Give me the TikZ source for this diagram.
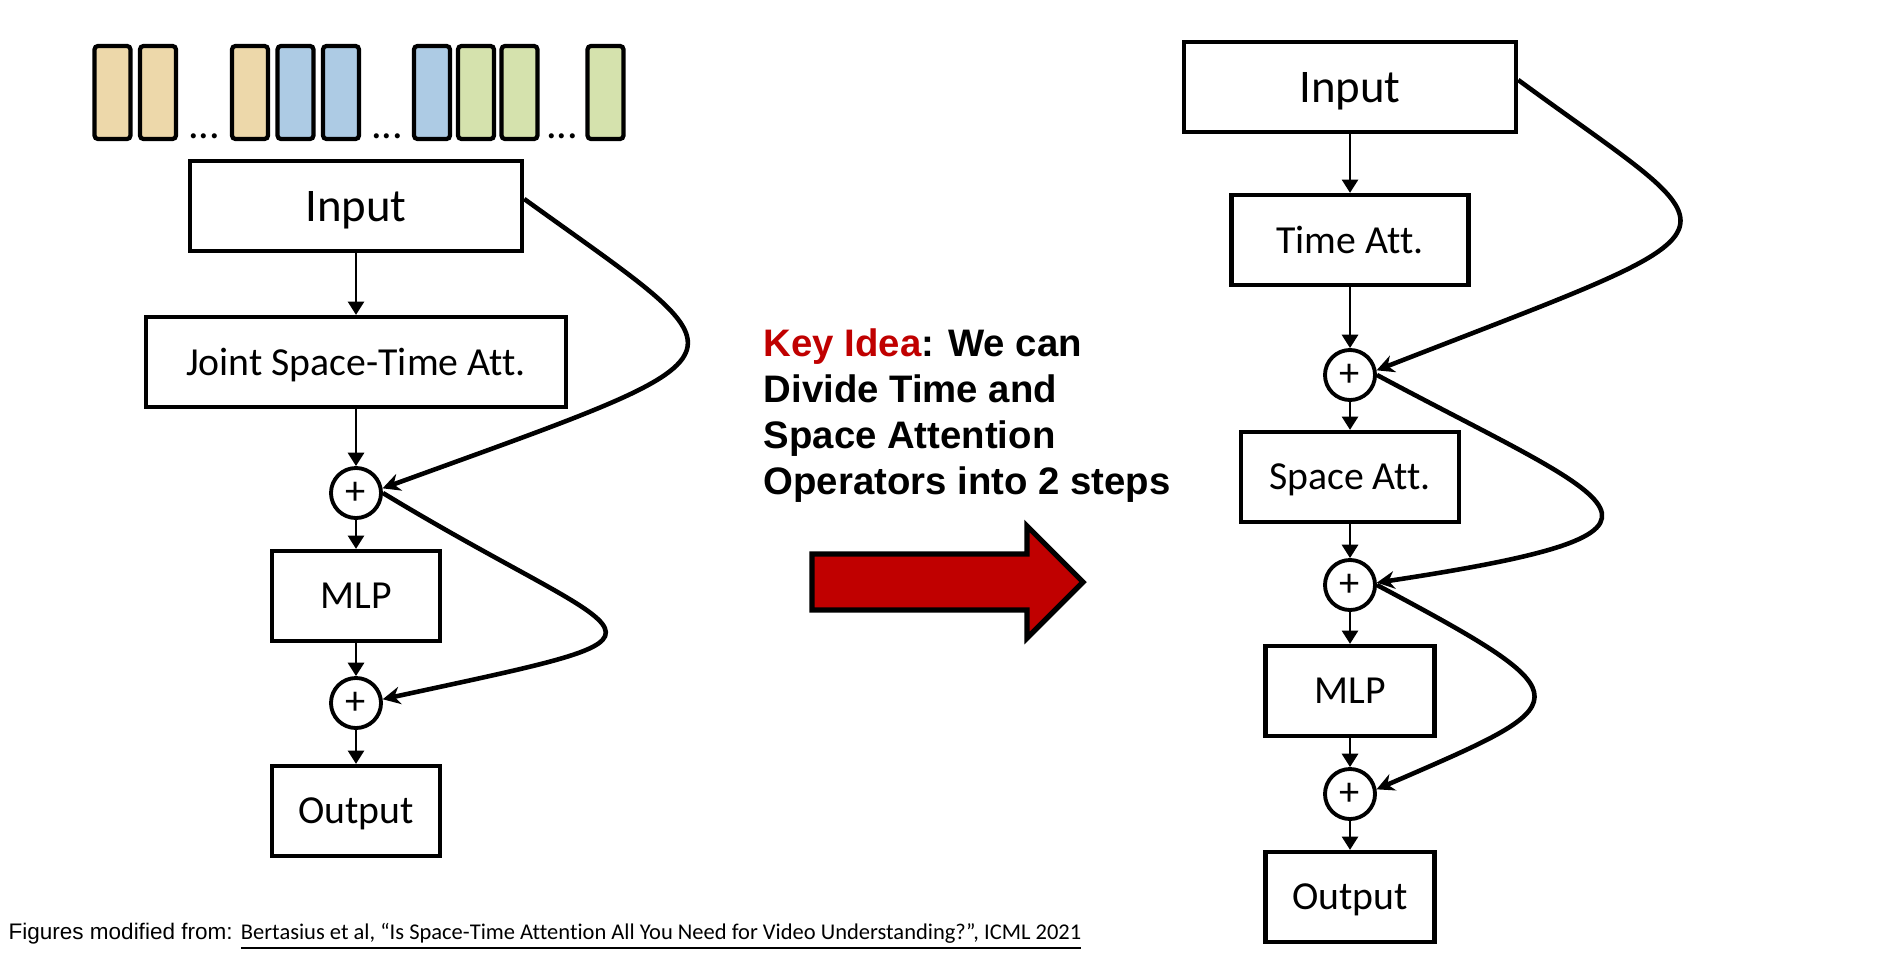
\documentclass[tikz,border=0pt]{standalone}
\usepackage{fontspec}
\setmainfont{Carlito}[Ligatures=NoCommon]
\newfontfamily\keyfont{Liberation Sans}
\usepackage{tikz}
\usetikzlibrary{arrows.meta, positioning, calc}
\definecolor{tokentan}{HTML}{EDD8AA}
\definecolor{tokenblue}{HTML}{ADCBE4}
\definecolor{tokengreen}{HTML}{D5E2AD}
\definecolor{ideared}{HTML}{C00000}

\begin{document}
\begin{tikzpicture}[
    x=0.01cm, y=-0.01cm,
    box/.style={rectangle, draw=black, line width=1.2pt, fill=white, inner sep=0pt, minimum height=0.9cm, text depth=0pt, font=\fontsize{11.3}{13}\selectfont},
    plus/.style={circle, draw=black, line width=1.1pt, fill=white, minimum size=0.5cm, inner sep=0pt, font=\fontsize{11.5}{11.5}\selectfont},
    token/.style={rectangle, draw=black, line width=1.2pt, rounded corners=1pt, minimum width=0.36cm, minimum height=0.93cm, inner sep=0pt},
    dots/.style={anchor=base, inner sep=0pt, font=\fontsize{12}{12}\selectfont},
    flow/.style={-{Triangle[length=3.8pt, width=4.6pt]}, line width=0.7pt},
    skip/.style={-{Stealth[length=5pt, width=5pt]}, line width=1.3pt}
]
\useasboundingbox (0,0) rectangle (1895,976);

% -- LEFT: JOINT SPACE-TIME ATTENTION --
\foreach \x/\c [count=\i] in {112.5/tokentan, 158/tokentan, 250/tokentan, 295.5/tokenblue, 341/tokenblue, 432/tokenblue, 476/tokengreen, 519.5/tokengreen, 605.5/tokengreen}
    \node[token, fill=\c] (tok\i) at (\x,92.5) {};
\node[dots] (gapA) at (204,139) {...};
\node[dots] (gapB) at (387,139) {...};
\node[dots] (gapC) at (562,139) {...};

\node[box, minimum width=3.32cm, font=\fontsize{13.3}{15}\selectfont] (inL) at (356,206) {Input};
\node[box, minimum width=4.19cm] (jointL) at (356,362) {Joint Space-Time Att.};
\node[plus] (addL1) at (356,493) {+};
\node[box, minimum width=1.68cm] (mlpL) at (356,596) {MLP};
\node[plus] (addL2) at (356,703) {+};
\node[box, minimum width=1.68cm] (outL) at (356,811) {Output};

\draw[flow] (inL) -- (jointL);
\draw[flow] (jointL) -- (addL1);
\draw[flow] (addL1) -- (mlpL);
\draw[flow] (mlpL) -- (addL2);
\draw[flow] (addL2) -- (outL);

\draw[skip] ([yshift=2pt]inL.east) .. controls (754,365) and (769,348) .. (addL1.10);
\draw[skip] (addL1.east) .. controls (642,650) and (712,628) .. (addL2.8);

% -- MIDDLE: KEY IDEA --
\node[anchor=north west, inner sep=0pt, align=left, font=\keyfont\bfseries\fontsize{10.9}{13.1}\selectfont] (idea) at (763,328)
    {\textcolor{ideared}{Key Idea}: We can\\Divide Time and\\Space Attention\\Operators into 2 steps};
\draw[line width=1.5pt, fill=ideared, miter limit=10] (812,554) -- (1027,554) -- (1027,526) -- (1083,582)
    -- (1027,638) -- (1027,610) -- (812,610) -- cycle;

% -- RIGHT: DIVIDED SPACE-TIME ATTENTION --
\node[box, minimum width=3.32cm, font=\fontsize{13.3}{15}\selectfont] (inR) at (1350,87) {Input};
\node[box, minimum width=2.37cm] (timeR) at (1350,240) {Time Att.};
\node[plus] (addR1) at (1350,375) {+};
\node[box, minimum width=2.18cm] (spaceR) at (1350,477) {Space Att.};
\node[plus] (addR2) at (1350,585) {+};
\node[box, minimum width=1.69cm] (mlpR) at (1350,691) {MLP};
\node[plus] (addR3) at (1350,794) {+};
\node[box, minimum width=1.69cm] (outR) at (1350,897) {Output};

\draw[flow] (inR) -- (timeR);
\draw[flow] (timeR) -- (addR1);
\draw[flow] (addR1) -- (spaceR);
\draw[flow] (spaceR) -- (addR2);
\draw[flow] (addR2) -- (mlpR);
\draw[flow] (mlpR) -- (addR3);
\draw[flow] (addR3) -- (outR);

\draw[skip] ([yshift=2pt]inR.east) .. controls (1743,245) and (1765,219) .. (addR1.10);
\draw[skip] (addR1.east) .. controls (1620,505) and (1725,530) .. (addR2.5);
\draw[skip] (addR2.east) .. controls (1593,700) and (1578,702) .. (addR3.10);

% -- SOURCE --
\node[anchor=base west, inner sep=0pt, font=\fontsize{6.4}{7.5}\selectfont] (cite) at (8,939)
    {{\keyfont Figures modified from: }\underline{Bertasius et al, “Is Space-Time Attention All You Need for Video Understanding?”, ICML 2021}};

\end{tikzpicture}
\end{document}
